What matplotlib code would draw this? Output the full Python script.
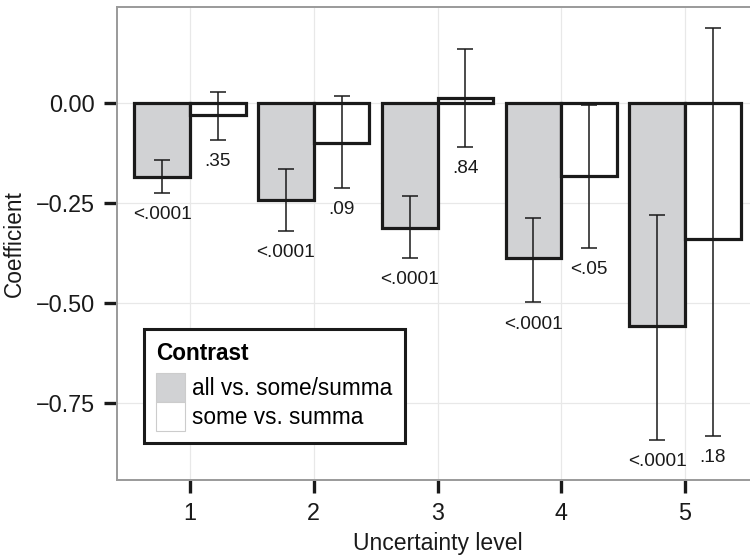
#!/usr/bin/env python3

import numpy as np
import matplotlib.pyplot as plt
from matplotlib.patches import Patch

plt.rcParams['font.family'] = ['Liberation Sans', 'DejaVu Sans']

# Uncertainty levels
levels = np.array([1, 2, 3, 4, 5])

# all vs. some/summa
all_coef = [-0.183, -0.242, -0.3125, -0.3875, -0.556]
all_lo = [-0.225, -0.318, -0.3875, -0.498, -0.842]
all_hi = [-0.142, -0.165, -0.232, -0.2875, -0.279]
all_p = ['<.0001', '<.0001', '<.0001', '<.0001', '<.0001']

# some vs. summa
some_coef = [-0.029, -0.098, 0.0125, -0.182, -0.34]
some_lo = [-0.092, -0.211, -0.108, -0.3625, -0.833]
some_hi = [0.029, 0.019, 0.136, -0.005, 0.189]
some_p = ['.35', '.09', '.84', '<.05', '.18']

series_names = ['all vs. some/summa', 'some vs. summa']

BAR_WIDTH = 0.45
GRAY = '#d1d2d4'
INK = '#1a1a1a'

fig = plt.figure(figsize=(7.5, 5.57), dpi=100)
ax = fig.add_axes([0.156, 0.1382, 0.8547, 0.8492])

series = [
    (all_coef, all_lo, all_hi, all_p, GRAY, -BAR_WIDTH / 2),
    (some_coef, some_lo, some_hi, some_p, 'white', BAR_WIDTH / 2),
]
for coef, lo, hi, pvals, col, off in series:
    xs = levels + off
    coef = np.array(coef)
    ax.bar(xs, coef, BAR_WIDTH, color=col, edgecolor=INK, linewidth=2.3, zorder=2)
    yerr = np.vstack([coef - np.array(lo), np.array(hi) - coef])
    ax.errorbar(xs, coef, yerr=yerr, fmt='none', ecolor=INK, elinewidth=1.1,
                capsize=5.7, capthick=1.1, zorder=3)
    for x, y, p in zip(xs, lo, pvals):
        ax.annotate(p, (x, y), xytext=(0, -15.5), textcoords='offset points',
                    ha='center', va='center', fontsize=13.7, color=INK)

ax.set_xlim(0.41, 5.59)
ax.set_ylim(-0.942, 0.241)
ax.set_xticks(levels)
ax.set_yticks([0.0, -0.25, -0.5, -0.75])
ax.set_yticklabels(['0.00', '\u22120.25', '\u22120.50', '\u22120.75'])
ax.grid(True, color='#e8e8e8', linewidth=0.9, zorder=0)
ax.set_axisbelow(True)

for s in ax.spines.values():
    s.set_color('#9a9a9a')
    s.set_linewidth(1.4)

ax.tick_params(axis='both', length=9.5, width=2.4, color=INK,
               labelsize=16.8, labelcolor=INK, pad=6.5)

ax.set_xlabel('Uncertainty level', fontsize=16.6, color=INK, labelpad=5)
ax.set_ylabel('Coefficient', fontsize=16.3, color=INK, labelpad=7)

handles = [Patch(facecolor=GRAY, edgecolor='#cccccc', linewidth=0.8),
           Patch(facecolor='white', edgecolor='#cccccc', linewidth=0.8)]
leg = ax.legend(handles, series_names, title='Contrast', loc='upper left',
                bbox_to_anchor=(0.0421, 0.3186), borderaxespad=0,
                fontsize=16.3, title_fontproperties={'weight': 'bold', 'size': 16.3},
                alignment='left', handlelength=1.28, handleheight=1.59,
                labelspacing=0, handletextpad=0.3, borderpad=0.55,
                fancybox=False, framealpha=1)
leg.get_frame().set_edgecolor(INK)
leg.get_frame().set_linewidth(2.2)
leg._legend_box.sep = 6

fig.savefig('out.png', dpi=100)
